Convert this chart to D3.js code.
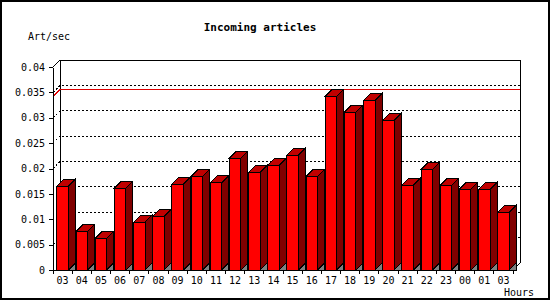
<!DOCTYPE html>
<html>
<head>
<meta charset="utf-8">
<script src="https://cdn.jsdelivr.net/npm/d3@7"></script>
<style>
  html, body { margin: 0; padding: 0; background: #fff; }
  text { font-family: "DejaVu Sans Mono", monospace; font-size: 10px; fill: #000; }
</style>
</head>
<body>
<div id="chart"></div>
<script>
const hours = ["03", "04", "05", "06", "07", "08", "09", "10", "11", "12", "13", "14",
  "15", "16", "17", "18", "19", "20", "21", "22", "23", "00", "01", "03"];
const rates = [0.0165, 0.0076, 0.0062, 0.0161, 0.0094, 0.0106, 0.0169, 0.0184, 0.0172, 0.0220, 0.0192, 0.0206,
  0.0226, 0.0184, 0.0342, 0.0311, 0.0334, 0.0295, 0.0167, 0.0198, 0.0167, 0.0159, 0.0159, 0.0114];
const yTicks = [0, 0.005, 0.01, 0.015, 0.02, 0.025, 0.03, 0.035, 0.04];

(function () {
  const W = 550, H = 300;
  const pLeft = 53, pRight = 513, pBottom = 270, pTop = 67;
  const dx = 7, dy = 7; // 3d depth

  const svg = d3.select("#chart").append("svg")
    .attr("width", W)
    .attr("height", H)
    .attr("shape-rendering", "crispEdges");

  // outer frame
  svg.append("rect")
    .attr("x", 1).attr("y", 1)
    .attr("width", W - 2).attr("height", H - 2)
    .attr("fill", "#fff")
    .attr("stroke", "#000")
    .attr("stroke-width", 2);

  const x = d3.scaleBand()
    .domain(d3.range(hours.length))
    .range([pLeft, pRight])
    .padding(0);

  const y = d3.scaleLinear()
    .domain([0, 0.04])
    .range([pBottom, pTop]);

  // back wall
  svg.append("path")
    .attr("d", `M${pLeft},${pTop}L${pLeft + dx},${pTop - dy}L${pRight + dx},${pTop - dy}L${pRight + dx},${pBottom - dy}L${pRight},${pBottom}`)
    .attr("fill", "none")
    .attr("stroke", "#000");
  svg.append("line")
    .attr("x1", pLeft + dx).attr("x2", pLeft + dx)
    .attr("y1", pTop - dy).attr("y2", pBottom - dy)
    .attr("stroke", "#000");

  // dotted grid on back wall
  const grid = svg.append("g");
  yTicks.filter(d => d > 0 && d < 0.04).forEach(d => {
    grid.append("path")
      .attr("d", `M${pLeft},${y(d)}L${pLeft + dx},${y(d) - dy}L${pRight + dx},${y(d) - dy}`)
      .attr("fill", "none")
      .attr("stroke", "#000")
      .attr("stroke-dasharray", "2,2");
  });

  // max line
  const maxV = d3.max(rates);
  svg.append("path")
    .attr("d", `M${pLeft},${y(maxV)}L${pLeft + dx},${y(maxV) - dy}L${pRight + dx},${y(maxV) - dy}`)
    .attr("fill", "none")
    .attr("stroke", "#e00000");

  // bars
  const bw = x.bandwidth() * 0.6;
  const bars = svg.append("g").selectAll("g")
    .data(rates)
    .join("g");

  bars.append("path")
    .attr("d", (d, i) => {
      const r = x(i) + x.bandwidth() * 0.2 + bw;
      return `M${r},${pBottom}L${r + dx},${pBottom - dy}L${r + dx},${pBottom}Z`;
    })
    .attr("fill", "#808080")
    .attr("stroke", "#000");

  bars.append("path")
    .attr("d", (d, i) => {
      const r = x(i) + x.bandwidth() * 0.2 + bw;
      return `M${r},${y(d)}L${r + dx},${y(d) - dy}L${r + dx},${pBottom - dy}L${r},${pBottom}Z`;
    })
    .attr("fill", "#800000")
    .attr("stroke", "#000");

  bars.append("path")
    .attr("d", (d, i) => {
      const l = x(i) + x.bandwidth() * 0.2;
      return `M${l},${y(d)}L${l + dx},${y(d) - dy}L${l + bw + dx},${y(d) - dy}L${l + bw},${y(d)}Z`;
    })
    .attr("fill", "#c00000")
    .attr("stroke", "#000");

  bars.append("rect")
    .attr("x", (d, i) => x(i) + x.bandwidth() * 0.2)
    .attr("y", d => y(d))
    .attr("width", bw)
    .attr("height", d => pBottom - y(d))
    .attr("fill", "#ff0000")
    .attr("stroke", "#000");

  // y axis
  svg.append("g")
    .attr("transform", `translate(${pLeft},0)`)
    .call(d3.axisLeft(y)
      .tickValues(yTicks)
      .tickSize(4)
      .tickSizeOuter(0)
      .tickPadding(4)
      .tickFormat(d => d === 0 ? "0" : d3.format(".3~f")(d)))
    .call(g => g.selectAll("text").attr("font-family", null).attr("font-size", null))
    .call(g => g.attr("font-family", null).attr("font-size", null))
    .call(g => g.select(".domain").attr("stroke", "#000"));

  // x axis
  const xAxis = svg.append("g");
  xAxis.append("line")
    .attr("x1", pLeft).attr("x2", pRight)
    .attr("y1", pBottom).attr("y2", pBottom)
    .attr("stroke", "#000");
  xAxis.selectAll(".tk")
    .data(d3.range(hours.length + 1))
    .join("line")
    .attr("x1", i => pLeft + i * x.step())
    .attr("x2", i => pLeft + i * x.step())
    .attr("y1", pBottom)
    .attr("y2", pBottom + 4)
    .attr("stroke", "#000");
  xAxis.selectAll(".lbl")
    .data(hours)
    .join("text")
    .attr("x", (d, i) => x(i) + x.bandwidth() / 2)
    .attr("y", 284)
    .attr("text-anchor", "middle")
    .text(d => d);

  svg.append("text")
    .attr("x", 504)
    .attr("y", 296)
    .text("Hours");

  svg.append("text")
    .attr("x", 28)
    .attr("y", 40)
    .text("Art/sec");

  svg.append("text")
    .attr("x", 260)
    .attr("y", 31)
    .attr("text-anchor", "middle")
    .style("font-size", "11px")
    .style("font-weight", "700")
    .text("Incoming articles");
})();
</script>
</body>
</html>
